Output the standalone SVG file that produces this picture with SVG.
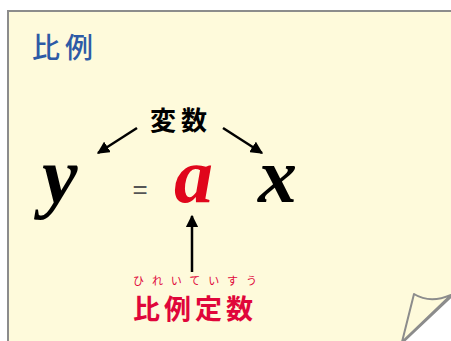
<svg xmlns="http://www.w3.org/2000/svg" width="451" height="341" viewBox="0 0 451 341">
<defs>
<style>
.paper{fill:#fefadb;stroke:#8c8c8c;stroke-width:2}
.jp{font-family:"Noto Sans CJK JP","Noto Sans CJK SC",sans-serif}
.var{font-family:"Liberation Serif","Times New Roman",serif;font-style:italic;font-weight:bold}
.conn{stroke:#000;stroke-width:2.5;fill:none}
</style>
<marker id="ah" viewBox="0 0 10 10" refX="9" refY="5" markerWidth="5" markerHeight="5" markerUnits="strokeWidth" orient="auto">
<path d="M0,0 L10,5 L0,10 Z" fill="#000"/>
</marker>
</defs>
<rect width="451" height="341" fill="#ffffff"/>
<g id="paper">
<path class="paper" d="M8,11 H453 V295 L402,343 H8 Z"/>
<path class="paper" d="M402,342 L414,294 Q430,304 451,295 Z" stroke-linejoin="round"/>
</g>
<g id="title">
<text x="32" y="58" class="jp" font-size="28" fill="#2d5aa6" font-weight="500" letter-spacing="5">比例</text>
</g>
<g id="hensu">
<text x="150" y="130" class="jp" font-size="26" fill="#000" font-weight="bold" letter-spacing="5">変数</text>
</g>
<g id="y">
<text x="42" y="203" class="var" font-size="80" fill="#000">y</text>
</g>
<g id="eq">
<text x="140" y="198" font-family="Liberation Sans,Arial,sans-serif" font-size="26" fill="#555" text-anchor="middle">=</text>
</g>
<g id="a">
<text x="174" y="202" class="var" font-size="78" fill="#e0061b">a</text>
</g>
<g id="x">
<text x="258" y="202" class="var" font-size="78" fill="#000">x</text>
</g>
<g id="constant">
<text x="133" y="285" class="jp" font-size="11" fill="#e0063a" textLength="124" lengthAdjust="spacing">ひれいていすう</text>
<text x="133" y="319" class="jp" font-size="27" fill="#e0063a" font-weight="bold" letter-spacing="4">比例定数</text>
</g>
<g id="connectors">
<line class="conn" x1="137" y1="128" x2="98" y2="153" marker-end="url(#ah)"/>
<line class="conn" x1="223" y1="128" x2="262" y2="153" marker-end="url(#ah)"/>
<line class="conn" x1="192" y1="272" x2="192" y2="216" marker-end="url(#ah)"/>
</g>
</svg>
